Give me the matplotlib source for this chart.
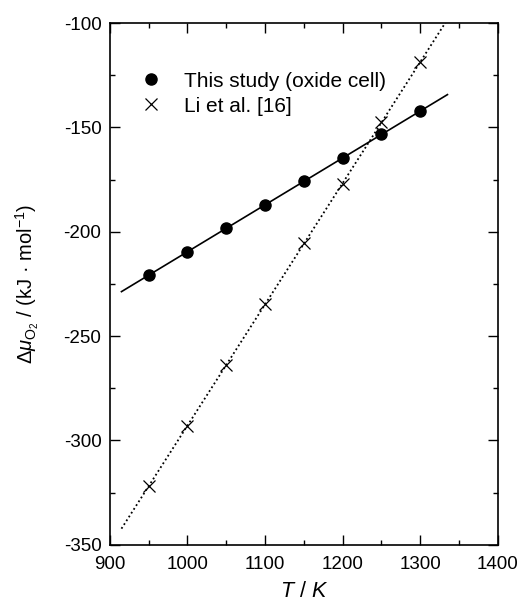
import numpy as np
import matplotlib.pyplot as plt
from matplotlib.ticker import MultipleLocator

plt.rcParams['font.family'] = ['Liberation Sans', 'DejaVu Sans']
plt.rcParams['mathtext.fontset'] = 'custom'
plt.rcParams['mathtext.rm'] = 'Liberation Sans'
plt.rcParams['mathtext.it'] = 'Liberation Sans:italic'
plt.rcParams['axes.unicode_minus'] = False

# data
T = [950, 1000, 1050, 1100, 1150, 1200, 1250, 1300]
mu_this = [-220.8, -209.6, -198.4, -187.2, -175.8, -164.6, -153.4, -142.2]
mu_li = [-321.8, -292.9, -264.0, -234.8, -205.6, -177.1, -147.4, -118.6]
T_fit = [915, 1335]

fig = plt.figure(figsize=(5.28, 6.06), dpi=100)
ax = fig.add_axes([0.208, 0.101, 0.735, 0.861])

# linear fits
p1 = np.polyfit(T, mu_this, 1)
p2 = np.polyfit(T, mu_li, 1)
tf = np.array(T_fit)
ax.plot(tf, np.polyval(p1, tf), color='black', lw=1.2, ls='-')
ax.plot(tf, np.polyval(p2, tf), color='black', lw=1.3, ls=(0, (1, 1.5)))

ax.plot(T, mu_this, 'o', color='black', markersize=8, label='This study (oxide cell)')
ax.plot(T, mu_li, 'x', color='black', markersize=8, mew=0.9, label='Li et al. [16]')

ax.set_xlim(900, 1400)
ax.set_ylim(-350, -100)
ax.xaxis.set_major_locator(MultipleLocator(100))
ax.xaxis.set_minor_locator(MultipleLocator(50))
ax.yaxis.set_major_locator(MultipleLocator(50))
ax.yaxis.set_minor_locator(MultipleLocator(25))
ax.tick_params(which='both', direction='in', top=True, right=True, labelsize=13.5)
ax.tick_params(axis='x', pad=8)
ax.tick_params(axis='y', pad=6)
ax.tick_params(which='major', length=7, width=1)
ax.tick_params(which='minor', length=3.5, width=1)
for s in ax.spines.values():
    s.set_linewidth(1.2)

ax.set_xlabel('$T$ / $K$', fontsize=15.5, labelpad=6)
ax.set_ylabel(r'$\Delta\mu_{\mathrm{O}_2}$ / (kJ · mol$^{-1}$)', fontsize=14.5, labelpad=16)

ax.legend(loc='upper left', bbox_to_anchor=(0.025, 0.943), frameon=False, fontsize=15,
          handletextpad=1.0, labelspacing=0.3, handlelength=1.2)

fig.savefig('out.png', dpi=100)
